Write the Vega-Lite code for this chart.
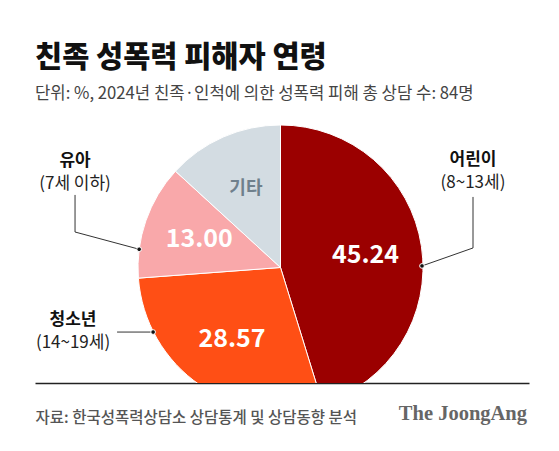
{
  "$schema": "https://vega.github.io/schema/vega-lite/v6.json",
  "width": 494,
  "height": 268,
  "autosize": "none",
  "padding": {"left": 35, "right": 30, "top": 115, "bottom": 68},
  "background": "white",
  "title": {
    "text": "친족 성폭력 피해자 연령",
    "subtitle": "단위: %, 2024년 친족·인척에 의한 성폭력 피해 총 상담 수: 84명",
    "anchor": "start",
    "frame": "group",
    "font": "Noto Sans CJK KR",
    "fontSize": 29.5,
    "fontWeight": 900,
    "color": "#111111",
    "subtitleFont": "Noto Sans CJK KR",
    "subtitleFontSize": 16.7,
    "subtitleColor": "#444444",
    "subtitlePadding": 13,
    "offset": 11
  },
  "datasets": {
    "slices": [
      {"age": "어린이", "value": 45.24, "label": "45.24"},
      {"age": "청소년", "value": 28.57, "label": "28.57"},
      {"age": "유아", "value": 13.00, "label": "13.00"},
      {"age": "기타", "value": 13.19, "label": "기타"}
    ],
    "labels": [
      {"age": "유아", "name": "유아", "range": "(7세 이하)", "lx": -144.2, "ly": 66.7},
      {"age": "청소년", "name": "청소년", "range": "(14~19세)", "lx": -145.6, "ly": -44.6},
      {"age": "어린이", "name": "어린이", "range": "(8~13세)", "lx": 135.1, "ly": 67.4}
    ],
    "leaders": [
      {"age": "유아", "seq": 1, "lx": -144.2, "ly": 50.9},
      {"age": "유아", "seq": 2, "lx": -144.2, "ly": 24.9},
      {"age": "유아", "seq": 3, "lx": -99.2, "ly": 12.8},
      {"age": "청소년", "seq": 1, "lx": -114.7, "ly": -45.3},
      {"age": "청소년", "seq": 2, "lx": -89.4, "ly": -45.3},
      {"age": "어린이", "seq": 1, "lx": 135.1, "ly": 49.5},
      {"age": "어린이", "seq": 2, "lx": 135.1, "ly": 13.7},
      {"age": "어린이", "seq": 3, "lx": 99.3, "ly": 1.1}
    ],
    "dots": [
      {"age": "유아", "lx": -99.2, "ly": 12.8},
      {"age": "청소년", "lx": -89.4, "ly": -45.3},
      {"age": "어린이", "lx": 99.3, "ly": 1.1}
    ]
  },
  "layer": [
    {
      "data": {"name": "slices"},
      "transform": [{"window": [{"op": "row_number", "as": "rank"}]}],
      "mark": {"type": "arc", "outerRadius": 142.5, "stroke": "white", "strokeWidth": 1, "clip": true},
      "encoding": {
        "x": {
          "datum": 0,
          "type": "quantitative",
          "scale": {"domain": [-172.3, 174.4], "nice": false, "zero": false},
          "title": "자료: 한국성폭력상담소 상담통계 및 상담동향 분석"
        },
        "y": {
          "datum": 0,
          "type": "quantitative",
          "scale": {"domain": [-81.05, 107.0], "nice": false, "zero": false}
        },
        "theta": {"field": "value", "type": "quantitative", "stack": true},
        "order": {"field": "rank", "type": "quantitative"},
        "color": {
          "field": "age",
          "type": "nominal",
          "scale": {
            "domain": ["어린이", "청소년", "유아", "기타"],
            "range": ["#9b0000", "#ff4f15", "#f9a8aa", "#d3dce2"]
          },
          "legend": null
        }
      }
    },
    {
      "data": {"name": "slices"},
      "transform": [{"window": [{"op": "row_number", "as": "rank"}]}],
      "mark": {"type": "text", "radius": 86, "fontWeight": "bold", "font": "Noto Sans CJK KR", "baseline": "middle", "align": "center"},
      "encoding": {
        "x": {"datum": 0, "type": "quantitative", "title": "자료: 한국성폭력상담소 상담통계 및 상담동향 분석"},
        "y": {"datum": 0, "type": "quantitative"},
        "theta": {"field": "value", "type": "quantitative", "stack": true},
        "order": {"field": "rank", "type": "quantitative"},
        "text": {"field": "label"},
        "color": {
          "condition": {"test": "datum.age === '기타'", "value": "#6f808c"},
          "value": "white"
        },
        "size": {
          "condition": {"test": "datum.age === '기타'", "value": 18},
          "value": 25
        }
      }
    },
    {
      "data": {"name": "leaders"},
      "mark": {"type": "line", "stroke": "#333333", "strokeWidth": 1},
      "encoding": {
        "x": {"field": "lx", "type": "quantitative", "title": "자료: 한국성폭력상담소 상담통계 및 상담동향 분석"},
        "y": {"field": "ly", "type": "quantitative"},
        "detail": {"field": "age"},
        "order": {"field": "seq", "type": "quantitative"}
      }
    },
    {
      "data": {"name": "dots"},
      "mark": {"type": "circle", "size": 22, "fill": "#111111", "stroke": "white", "strokeWidth": 1, "opacity": 1},
      "encoding": {
        "x": {"field": "lx", "type": "quantitative", "title": "자료: 한국성폭력상담소 상담통계 및 상담동향 분석"},
        "y": {"field": "ly", "type": "quantitative"}
      }
    },
    {
      "data": {"name": "labels"},
      "mark": {"type": "text", "font": "Noto Sans CJK KR", "fontWeight": "bold", "fontSize": 17, "color": "#111111", "dy": -11.5, "align": "center", "baseline": "middle"},
      "encoding": {
        "x": {"field": "lx", "type": "quantitative", "title": "자료: 한국성폭력상담소 상담통계 및 상담동향 분석"},
        "y": {"field": "ly", "type": "quantitative"},
        "text": {"field": "name"}
      }
    },
    {
      "data": {"name": "labels"},
      "mark": {"type": "text", "font": "Noto Sans CJK KR", "fontWeight": "normal", "fontSize": 17, "color": "#222222", "dy": 11.5, "align": "center", "baseline": "middle"},
      "encoding": {
        "x": {"field": "lx", "type": "quantitative", "title": "자료: 한국성폭력상담소 상담통계 및 상담동향 분석"},
        "y": {"field": "ly", "type": "quantitative"},
        "text": {"field": "range"}
      }
    },
    {
      "data": {"values": [{"brand": "The JoongAng"}]},
      "mark": {"type": "text", "font": "Liberation Serif", "fontWeight": "bold", "fontSize": 20.5, "color": "#666666", "align": "right", "baseline": "alphabetic"},
      "encoding": {
        "x": {"datum": 173.0, "type": "quantitative", "title": "자료: 한국성폭력상담소 상담통계 및 상담동향 분석"},
        "y": {"datum": -107.0, "type": "quantitative"},
        "text": {"field": "brand"}
      }
    }
  ],
  "config": {
    "view": {"stroke": null},
    "font": "Noto Sans CJK KR",
    "axisY": {"disable": true},
    "axisX": {
      "domain": true,
      "domainColor": "#222222",
      "domainWidth": 1.3,
      "ticks": false,
      "labels": false,
      "grid": false,
      "zindex": 1,
      "titleFont": "Noto Sans CJK KR",
      "titleFontSize": 15.5,
      "titleFontWeight": 500,
      "titleColor": "#555555",
      "titleAnchor": "start",
      "titleAlign": "left",
      "titleBaseline": "middle",
      "titlePadding": 34
    }
  }
}
